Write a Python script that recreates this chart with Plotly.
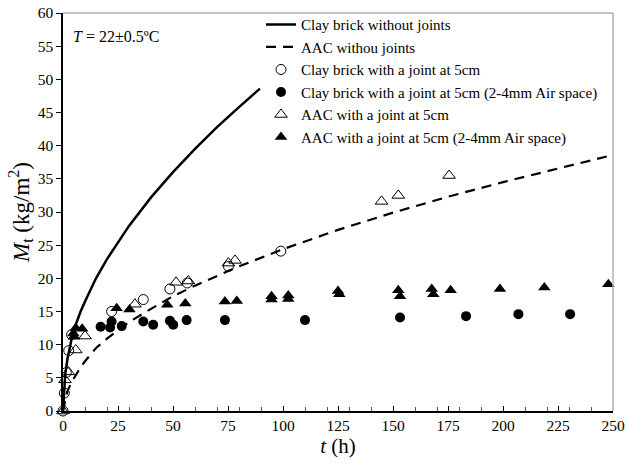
import plotly.graph_objects as go

FONT = "Liberation Serif, Times New Roman, serif"

# Continuous curves
clay_curve_t = [0, 0.5, 1, 2, 3, 4, 5, 6, 8, 10, 15, 20, 25, 30, 40, 50, 60, 70, 80, 89.5]
clay_curve_y = [0, 3.8, 5.5, 7.8, 9.6, 11.0, 12.3, 13.3, 15.0, 16.5, 20.0, 22.9, 25.5, 27.9, 32.2, 36.0, 39.5, 42.8, 45.8, 48.6]

aac_curve_t = [0, 1, 2, 4, 6, 8, 10, 15, 20, 30, 40, 50, 60, 80, 100, 125, 150, 175, 200, 225, 250]
aac_curve_y = [0, 1.8, 3.0, 4.4, 5.6, 6.6, 7.5, 9.5, 10.9, 13.4, 15.4, 17.3, 18.9, 21.8, 24.4, 27.3, 29.9, 32.3, 34.5, 36.6, 38.6]

# Clay brick with a joint at 5cm (open circles)
clay_joint_t = [0, 0.6, 1.5, 2.6, 3.9, 22.1, 36.5, 48.6, 56.5, 75.2, 99.0]
clay_joint_y = [0, 2.7, 5.8, 9.1, 11.5, 15.0, 16.8, 18.4, 19.3, 21.8, 24.1]

# Clay brick with a joint at 5cm, air space (filled circles)
clay_air_t = [17.1, 21.4, 22.1, 26.7, 36.5, 41.0, 48.6, 50.1, 56.2, 73.6, 110.0, 153.2, 183.2, 207.0, 230.5]
clay_air_y = [12.7, 12.6, 13.5, 12.8, 13.5, 13.0, 13.6, 13.0, 13.7, 13.7, 13.7, 14.1, 14.3, 14.6, 14.6]

# AAC with a joint at 5cm (open triangles)
aac_joint_t = [0, 0.9, 2.4, 5.8, 10.0, 32.7, 51.4, 57.0, 75.2, 78.2, 144.8, 152.4, 175.5]
aac_joint_y = [0, 4.7, 5.9, 9.2, 11.3, 16.1, 19.4, 19.6, 22.3, 22.7, 31.6, 32.5, 35.5]

# AAC with a joint at 5cm, air space (filled triangles)
aac_air_t = [4.7, 5.0, 5.8, 8.7, 24.4, 30.2, 47.4, 55.6, 73.6, 79.0, 94.8, 94.8, 102.4, 102.4,
             125.0, 125.6, 152.4, 153.2, 167.6, 168.3, 176.2, 198.6, 218.8, 247.9]
aac_air_y = [11.7, 11.2, 12.5, 12.4, 15.5, 15.3, 16.0, 16.2, 16.5, 16.6, 17.3, 16.8, 17.4, 16.9,
             18.1, 17.6, 18.2, 17.3, 18.4, 17.6, 18.2, 18.4, 18.6, 19.1]

fig = go.Figure()
fig.add_trace(go.Scatter(x=clay_curve_t, y=clay_curve_y, mode="lines",
                         line=dict(color="black", width=2.5),
                         name="Clay brick without joints"))
fig.add_trace(go.Scatter(x=aac_curve_t, y=aac_curve_y, mode="lines",
                         line=dict(color="black", width=2.2, dash="10px,7px"),
                         name="AAC withou joints"))
fig.add_trace(go.Scatter(x=clay_joint_t, y=clay_joint_y, mode="markers",
                         marker=dict(symbol="circle-open", size=10, color="black", line=dict(width=1)),
                         name="Clay brick with a joint at 5cm", cliponaxis=False))
fig.add_trace(go.Scatter(x=clay_air_t, y=clay_air_y, mode="markers",
                         marker=dict(symbol="circle", size=10, color="black"),
                         name="Clay brick with a joint at 5cm (2-4mm Air space)", cliponaxis=False))
fig.add_trace(go.Scatter(x=aac_joint_t, y=aac_joint_y, mode="markers",
                         marker=dict(symbol="triangle-up-open", size=11, color="black", line=dict(width=1)),
                         name="AAC with a joint at 5cm", cliponaxis=False))
fig.add_trace(go.Scatter(x=aac_air_t, y=aac_air_y, mode="markers",
                         marker=dict(symbol="triangle-up", size=11, color="black"),
                         name="AAC with a joint at 5cm (2-4mm Air space)", cliponaxis=False))

fig.add_annotation(x=0.015, y=0.94, xref="paper", yref="paper", xanchor="left", yanchor="middle",
                   text="<i>T</i> = 22±0.5ºC", showarrow=False,
                   font=dict(family=FONT, size=16, color="black"))

# gray top/right frame
fig.add_shape(type="line", xref="paper", yref="paper", x0=0, x1=1, y0=1, y1=1,
              line=dict(color="#b0b0b0", width=1.5))
fig.add_shape(type="line", xref="paper", yref="paper", x0=1, x1=1, y0=0, y1=1,
              line=dict(color="#b0b0b0", width=1.5))

fig.update_layout(
    width=627, height=469,
    margin=dict(l=63, r=14, t=13, b=58, autoexpand=False),
    paper_bgcolor="white", plot_bgcolor="white",
    font=dict(family=FONT, size=16, color="black"),
    showlegend=True,
    legend=dict(x=0.36, y=1.012, xanchor="left", yanchor="top",
                bgcolor="rgba(0,0,0,0)", font=dict(family=FONT, size=15, color="black"),
                tracegroupgap=0, itemwidth=30),
    xaxis=dict(range=[0, 250], dtick=25, tick0=0, showgrid=False, zeroline=False,
               showline=True, linecolor="black", linewidth=1.5, automargin=True,
               ticks="inside", ticklen=5, tickcolor="black", ticklabeloverflow="allow",
               minor=dict(dtick=10, tick0=0, ticks="inside", ticklen=4, tickcolor="#555", showgrid=False),
               title=dict(text="<i>t</i> (h)", font=dict(family=FONT, size=21), standoff=3),
               tickfont=dict(family=FONT, size=15.5)),
    yaxis=dict(range=[0, 60], dtick=5, tick0=0, showgrid=False, zeroline=False,
               showline=True, linecolor="black", linewidth=1.5, automargin=True,
               ticks="outside", ticklen=5, tickcolor="black", ticklabeloverflow="allow",
               title=dict(text="<i>M</i><sub>t</sub> (kg/m<sup>2</sup>)", font=dict(family=FONT, size=23), standoff=2),
               tickfont=dict(family=FONT, size=15.5)),
)

fig.write_html("out.html", config={"displayModeBar": False},
               post_script="document.body.style.margin='0px';")
